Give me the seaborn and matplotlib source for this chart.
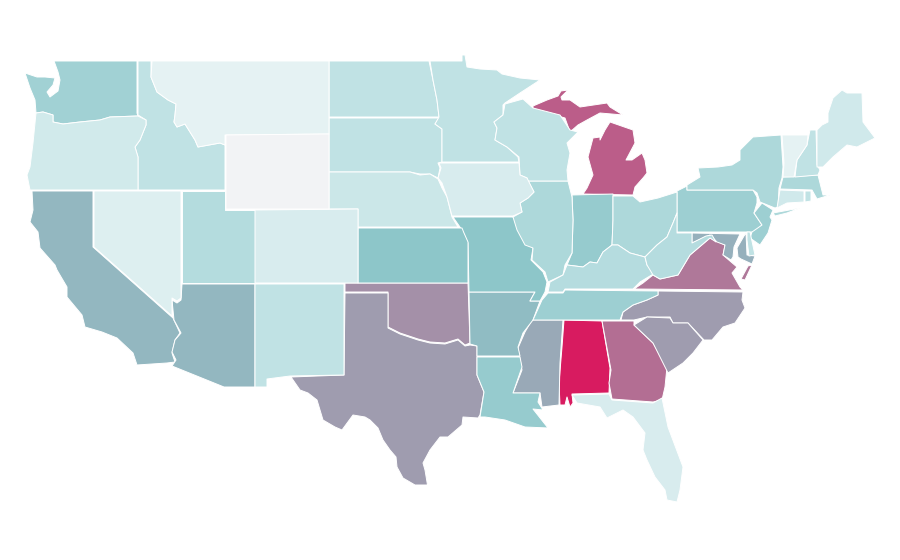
import matplotlib
matplotlib.use("Agg")
import matplotlib.pyplot as plt
from matplotlib.collections import PolyCollection
from matplotlib.colors import LinearSegmentedColormap, Normalize
import pandas as pd
import seaborn as sns

# values per state
states = ["AL", "MI", "GA", "VA", "OK", "TX", "NC", "SC", "MS", "MD", "CA", "AZ", "AR",
          "MO", "KS", "LA", "IN", "PA", "TN", "NJ", "WA", "IL", "OH", "NY", "MA", "UT",
          "KY", "WV", "ND", "SD", "MN", "WI", "ID", "NM", "NH", "DE", "RI", "NE", "ME",
          "CT", "OR", "IA", "CO", "FL", "NV", "MT", "VT", "WY"]
values = [100, 73, 66, 62, 52, 47, 47, 47, 42, 39, 36, 36, 34,
          30, 30, 27, 27, 25, 25, 25, 24, 20.5, 20.5, 20.5, 20.5, 18.5,
          18, 18, 15, 15, 15, 15, 15, 15, 15, 15, 15, 12, 10.5,
          10.5, 10, 8, 8, 8, 6.5, 4, 4, 0]

scale_stops = [0, 0.04, 0.15, 0.30, 1]
scale_colors = ["#f2f3f5", "#e5f2f3", "#c0e2e4", "#8cc6c9", "#d81b60"]

# state outlines, in map units (one or more rings per state)
shapes = {
    "WA": [[(54,61),(137,61),(137,113),(138,116),(110,117),(100,120),(80,122),(63,124),(53,122),(53,115),(43,112),(36,113),(35,100),(30,88),(25,73),(37,77),(45,77),(55,78),(53,85),(47,92),(50,97),(58,91),(60,80),(58,72)]],
    "OR": [[(36,113),(43,112),(53,115),(53,122),(63,124),(80,122),(100,120),(110,117),(138,116),(146,120),(146,125),(140,140),(135,147),(138,157),(138,190),(30,190),(27,175),(30,167),(33,143)]],
    "ID": [[(138,61),(151,61),(151,77),(157,92),(168,100),(176,104),(175,115),(174,122),(177,127),(185,124),(190,132),(195,140),(198,147),(220,143),(225,145),(225,190),(138,190),(138,157),(135,147),(140,140),(146,125),(146,120),(138,115)]],
    "MT": [[(152,61),(329,61),(329,134),(225,135),(225,145),(220,143),(198,147),(195,140),(190,132),(185,124),(177,127),(174,122),(175,115),(176,104),(168,100),(157,92),(151,77)]],
    "WY": [[(226,135),(329,134),(329,209),(226,209)]],
    "ND": [[(329,61),(429,61),(433,80),(437,100),(439,117),(329,117)]],
    "SD": [[(329,118),(439,118),(435,124),(442,129),(442,162),(438,163),(440,168),(438,178),(430,174),(420,174),(410,172),(329,172)]],
    "NE": [[(329,172),(410,172),(420,175),(430,174),(438,179),(442,188),(447,197),(452,217),(458,227),(358,227),(358,209),(329,209)]],
    "KS": [[(358,228),(462,228),(464,233),(468,242),(468,283),(358,283)]],
    "CO": [[(255,210),(358,209),(358,283),(255,283)]],
    "NM": [[(255,284),(344,284),(344,375),(290,376),(267,379),(267,387),(255,387)]],
    "OK": [[(345,283),(468,283),(470,343),(465,345),(458,339),(445,343),(430,342),(418,339),(400,333),(388,327),(388,292),(345,292)]],
    "TX": [[(345,293),(388,293),(388,328),(400,334),(418,340),(430,343),(445,344),(458,340),(465,346),(470,345),(477,346),(477,375),(484,392),(480,415),(478,418),(463,417),(462,425),(448,437),(440,437),(430,450),(423,463),(425,470),(428,488),(427,485),(415,485),(403,478),(397,467),(396,457),(390,450),(383,440),(378,428),(370,420),(365,417),(353,415),(342,430),(335,427),(323,420),(320,410),(317,400),(308,393),(300,390),(291,377),(344,375)]],
    "CA": [[(32,191),(93,191),(93,247),(173,318),(180,333),(175,340),(172,353),(175,362),(167,363),(137,365),(133,353),(117,338),(102,332),(85,327),(82,315),(67,297),(67,287),(57,270),(55,265),(40,248),(38,232),(30,222),(33,210)]],
    "NV": [[(94,191),(181,191),(181,298),(177,301),(172,298),(172,316),(94,247)]],
    "UT": [[(182,191),(225,191),(225,210),(255,210),(255,283),(182,283)]],
    "AZ": [[(182,284),(255,284),(255,387),(224,387),(172,366),(176,360),(172,352),(175,340),(181,333),(174,320),(172,300),(177,303),(181,300)]],
    "MN": [[(430,61),(462,61),(462,55),(465,55),(467,67),(480,69),(497,70),(502,74),(520,78),(540,80),(520,93),(505,103),(503,105),(503,115),(494,122),(497,128),(495,140),(507,147),(518,157),(519,162),(442,162),(442,129),(435,124),(439,117),(437,100),(433,80)]],
    "IA": [[(439,163),(519,163),(520,175),(527,178),(534,192),(528,198),(520,203),(522,212),(513,216),(452,216),(447,197),(442,183),(438,178),(441,168)]],
    "WI": [[(505,104),(523,99),(533,108),(560,115),(570,130),(578,132),(567,143),(570,153),(567,170),(568,181),(528,181),(527,178),(520,175),(519,157),(507,147),(495,140),(497,128),(494,122),(503,115)]],
    "MI": [[(533,106),(547,100),(558,96),(561,91),(568,90),(561,97),(562,100),(570,100),(580,107),(607,103),(610,107),(623,115),(600,113),(587,120),(578,125),(570,132),(565,118),(533,109)],
           [(600,140),(605,130),(610,122),(633,130),(635,143),(626,160),(632,160),(642,153),(645,160),(647,173),(643,178),(635,187),(633,195),(583,194),(587,188),(593,175),(588,157),(593,138),(600,137)]],
    "IL": [[(528,181),(568,181),(572,197),(573,220),(572,253),(565,265),(563,275),(548,282),(545,272),(532,260),(533,248),(525,245),(517,230),(513,217),(522,212),(520,203),(528,198),(534,192)]],
    "IN": [[(572,195),(613,194),(613,220),(612,245),(603,252),(597,263),(590,262),(583,267),(567,265),(572,253),(573,220)]],
    "OH": [[(613,196),(633,196),(640,202),(658,198),(677,192),(677,213),(673,223),(667,237),(657,245),(645,257),(630,253),(618,245),(612,245),(613,220)]],
    "KY": [[(612,245),(618,245),(630,253),(645,257),(647,265),(655,273),(640,282),(633,289),(565,289),(563,292),(548,292),(550,282),(563,275),(567,265),(583,267),(590,262),(597,263),(603,252)]],
    "TN": [[(548,293),(563,293),(565,290),(658,291),(658,295),(647,300),(633,305),(623,312),(620,320),(533,320),(542,300)]],
    "AR": [[(469,292),(535,292),(530,301),(540,301),(533,320),(523,333),(518,347),(520,356),(477,356),(477,346),(470,344)]],
    "MO": [[(453,217),(513,217),(515,220),(525,242),(533,248),(531,260),(543,272),(547,282),(545,292),(540,301),(530,301),(535,292),(469,292),(468,243),(462,230)]],
    "LA": [[(477,357),(520,357),(522,367),(513,393),(540,393),(538,402),(543,410),(533,409),(548,428),(525,427),(505,420),(485,417),(480,417),(484,392),(477,375)]],
    "MS": [[(532,320),(563,320),(560,363),(559,405),(542,407),(540,393),(513,393),(522,370),(518,348),(525,332)]],
    "AL": [[(564,320),(602,321),(610,368),(609,393),(572,394),(573,403),(570,407),(567,397),(565,405),(560,405),(559,383),(562,347)]],
    "GA": [[(602,321),(634,321),(634,325),(653,343),(667,367),(665,387),(662,400),(653,402),(612,399),(609,383),(611,370)]],
    "FL": [[(572,395),(609,394),(612,400),(653,403),(662,398),(668,427),(683,467),(680,490),(677,502),(667,500),(665,490),(655,477),(647,460),(643,450),(645,433),(633,417),(623,410),(607,418),(600,407),(577,403)]],
    "SC": [[(634,325),(647,317),(670,318),(673,323),(688,323),(703,340),(693,353),(683,363),(668,373),(653,343)]],
    "NC": [[(658,291),(743,292),(742,300),(745,308),(735,323),(723,327),(712,340),(704,340),(688,323),(673,323),(670,317),(647,317),(634,320),(621,320),(623,312),(633,305),(647,300),(658,295)]],
    "VA": [[(634,289),(643,283),(653,275),(660,279),(678,275),(690,255),(710,238),(725,245),(723,255),(737,267),(732,273),(740,287),(743,290)],
           [(752,265),(745,280),(741,279),(748,266)]],
    "WV": [[(677,213),(677,233),(692,233),(692,243),(706,236),(712,235),(716,242),(710,238),(690,255),(678,275),(660,279),(653,275),(647,265),(645,257),(657,245),(667,237),(673,223)]],
    "PA": [[(677,191),(687,186),(687,190),(753,190),(757,197),(757,203),(754,213),(762,225),(755,232),(677,232)]],
    "NY": [[(687,185),(700,177),(698,168),(718,167),(732,165),(740,160),(740,150),(753,137),(781,135),(783,167),(782,178),(779,188),(778,207),(775,208),(760,202),(757,193),(753,190),(687,190)],
           [(773,213),(800,208),(787,213),(775,216)]],
    "NJ": [[(762,203),(773,210),(770,217),(772,220),(768,233),(760,245),(750,238),(752,232),(762,225),(754,213)]],
    "CT": [[(780,190),(804,191),(804,202),(787,203),(777,208)]],
    "RI": [[(805,191),(811,191),(811,201),(805,202)]],
    "MA": [[(783,177),(818,175),(820,183),(823,195),(830,195),(817,199),(812,190),(780,189)]],
    "VT": [[(782,135),(808,135),(807,145),(797,160),(794,177),(783,177),(784,163)]],
    "NH": [[(810,130),(816,130),(817,165),(820,170),(818,175),(795,177),(797,160),(807,145)]],
    "ME": [[(817,130),(822,125),(828,122),(828,113),(833,98),(842,90),(847,93),(862,93),(863,122),(875,138),(857,147),(847,145),(833,157),(823,167),(817,167)]],
    "MD": [[(692,233),(740,234),(734,247),(733,257),(731,260),(723,255),(725,245),(717,242),(710,235),(692,243)],
           [(746,233),(747,255),(755,256),(752,264),(741,259),(738,257),(737,248),(744,236)]],
    "DE": [[(747,232),(750,232),(755,255),(749,256),(747,240)]],
}

df = pd.DataFrame({"state": states, "value": values})

sns.set_theme(style="white")
cmap = LinearSegmentedColormap.from_list("map_scale", list(zip(scale_stops, scale_colors)))
norm = Normalize(vmin=0, vmax=100)

rings = []
ring_values = []
for _, row in df.iterrows():
    for ring in shapes[row["state"]]:
        rings.append(ring)
        ring_values.append(row["value"])

fig = plt.figure(figsize=(9, 5.6), dpi=100)
ax = fig.add_axes([0, 0, 1, 1])
coll = PolyCollection(rings, array=ring_values, cmap=cmap, norm=norm,
                      edgecolors="white", linewidths=0.7)
ax.add_collection(coll)
ax.set_xlim(0, 900)
ax.set_ylim(560, 0)
ax.axis("off")

fig.savefig("out.png", dpi=100)
